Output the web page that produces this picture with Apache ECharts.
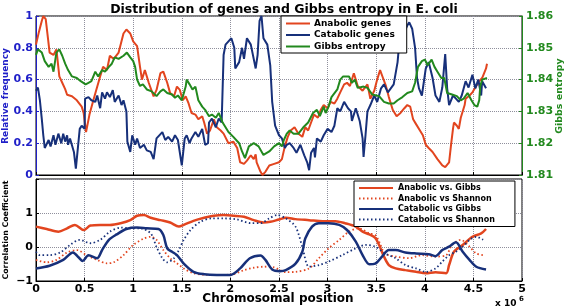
<!DOCTYPE html>
<html><head><meta charset="utf-8">
<script src="https://cdn.jsdelivr.net/npm/echarts@6/dist/echarts.min.js"></script>
<style>html,body{margin:0;padding:0;background:#fff}#c{width:566px;height:308px}</style>
</head><body><div id="c"></div>
<script>
// ---- Top panel data (x in units of 10^6) ----
const anaX=[0,0.03,0.06,0.075,0.10,0.125,0.14,0.18,0.21,0.23,0.24,0.27,0.30,0.32,0.37,0.42,0.47,0.49,0.515,0.53,0.55,0.59,0.62,0.66,0.69,0.73,0.76,0.80,0.85,0.90,0.93,0.97,1.00,1.04,1.07,1.09,1.12,1.16,1.21,1.24,1.28,1.31,1.35,1.38,1.42,1.45,1.48,1.51,1.54,1.57,1.60,1.64,1.67,1.71,1.73,1.76,1.79,1.83,1.86,1.90,1.93,1.98,2.03,2.07,2.10,2.14,2.17,2.21,2.24,2.26,2.27,2.31,2.33,2.36,2.40,2.45,2.50,2.53,2.56,2.59,2.62,2.66,2.70,2.74,2.77,2.80,2.83,2.86,2.90,2.93,2.96,3.00,3.03,3.07,3.10,3.13,3.17,3.20,3.23,3.27,3.31,3.36,3.41,3.44,3.48,3.51,3.54,3.57,3.60,3.63,3.67,3.71,3.75,3.79,3.82,3.85,3.88,3.91,3.95,3.98,4.01,4.04,4.08,4.13,4.18,4.21,4.25,4.27,4.29,4.30,4.33,4.35,4.37,4.41,4.42,4.46,4.49,4.52,4.56,4.59,4.63,4.64];
const anaY=[0.82,0.90,0.97,1.00,0.98,0.85,0.77,0.755,0.79,0.78,0.62,0.58,0.54,0.505,0.495,0.47,0.43,0.39,0.27,0.26,0.38,0.47,0.535,0.62,0.68,0.66,0.75,0.73,0.77,0.89,0.915,0.89,0.84,0.81,0.68,0.60,0.66,0.58,0.495,0.535,0.64,0.65,0.58,0.515,0.495,0.556,0.535,0.47,0.495,0.45,0.39,0.38,0.35,0.37,0.33,0.26,0.28,0.35,0.30,0.28,0.26,0.20,0.21,0.17,0.08,0.07,0.09,0.124,0.10,0.13,0.08,0.02,0.00,0.02,0.06,0.07,0.08,0.10,0.18,0.24,0.28,0.30,0.26,0.24,0.30,0.28,0.33,0.38,0.36,0.41,0.44,0.42,0.46,0.45,0.48,0.52,0.57,0.58,0.56,0.64,0.56,0.53,0.57,0.48,0.53,0.60,0.66,0.61,0.56,0.49,0.41,0.37,0.39,0.42,0.44,0.43,0.35,0.32,0.28,0.25,0.19,0.17,0.145,0.10,0.06,0.05,0.08,0.19,0.29,0.33,0.31,0.29,0.36,0.44,0.48,0.50,0.52,0.55,0.59,0.61,0.67,0.70];

const catX=[0,0.02,0.04,0.06,0.075,0.09,0.13,0.15,0.18,0.20,0.23,0.26,0.28,0.30,0.32,0.33,0.35,0.37,0.39,0.41,0.43,0.45,0.47,0.50,0.505,0.54,0.57,0.61,0.63,0.66,0.68,0.71,0.73,0.76,0.79,0.81,0.85,0.88,0.90,0.93,0.94,0.97,0.99,1.02,1.04,1.07,1.11,1.14,1.18,1.21,1.24,1.26,1.30,1.33,1.36,1.40,1.43,1.46,1.50,1.51,1.53,1.55,1.58,1.60,1.64,1.67,1.71,1.74,1.77,1.78,1.81,1.85,1.88,1.91,1.93,1.95,1.98,2.01,2.04,2.05,2.09,2.12,2.14,2.17,2.21,2.26,2.28,2.30,2.32,2.34,2.38,2.41,2.43,2.46,2.50,2.53,2.56,2.58,2.61,2.65,2.68,2.72,2.76,2.79,2.81,2.83,2.86,2.87,2.89,2.93,2.96,3.00,3.04,3.07,3.10,3.13,3.17,3.21,3.24,3.25,3.29,3.33,3.36,3.37,3.39,3.41,3.44,3.48,3.51,3.55,3.58,3.62,3.65,3.68,3.72,3.73,3.75,3.79,3.82,3.84,3.87,3.90,3.92,3.94,3.97,3.99,4.01,4.04,4.08,4.11,4.15,4.18,4.21,4.23,4.25,4.29,4.32,4.35,4.38,4.42,4.45,4.49,4.52,4.55,4.58,4.59,4.63];
const catY=[0.53,0.55,0.47,0.35,0.25,0.17,0.22,0.18,0.25,0.19,0.26,0.20,0.26,0.21,0.25,0.19,0.23,0.22,0.145,0.04,0.03,0.29,0.31,0.29,0.48,0.49,0.47,0.46,0.50,0.42,0.52,0.48,0.52,0.49,0.534,0.46,0.50,0.44,0.47,0.40,0.21,0.145,0.25,0.19,0.23,0.17,0.19,0.155,0.145,0.10,0.23,0.23,0.27,0.22,0.24,0.21,0.25,0.22,0.06,0.05,0.23,0.25,0.20,0.23,0.27,0.24,0.29,0.19,0.20,0.33,0.355,0.30,0.355,0.33,0.755,0.82,0.84,0.86,0.80,0.67,0.71,0.80,0.73,0.86,0.82,0.67,0.755,0.97,1.00,0.86,0.82,0.69,0.46,0.31,0.25,0.23,0.17,0.19,0.20,0.17,0.14,0.19,0.124,0.08,0.03,0.14,0.17,0.11,0.23,0.21,0.25,0.29,0.27,0.31,0.42,0.40,0.46,0.42,0.40,0.34,0.42,0.34,0.23,0.114,0.25,0.40,0.44,0.50,0.46,0.545,0.57,0.52,0.545,0.57,0.71,0.78,0.80,0.90,0.94,0.96,0.92,0.80,0.61,0.545,0.50,0.50,0.67,0.71,0.61,0.50,0.46,0.55,0.76,0.545,0.44,0.50,0.48,0.46,0.50,0.59,0.55,0.63,0.545,0.60,0.50,0.59,0.545];

const gibX=[0,0.02,0.06,0.09,0.13,0.16,0.18,0.21,0.24,0.27,0.30,0.33,0.37,0.42,0.46,0.51,0.54,0.57,0.61,0.64,0.68,0.71,0.75,0.78,0.81,0.85,0.90,0.935,0.97,1.00,1.02,1.04,1.07,1.10,1.14,1.19,1.24,1.28,1.31,1.35,1.40,1.43,1.46,1.50,1.54,1.55,1.58,1.61,1.64,1.67,1.71,1.74,1.78,1.81,1.85,1.88,1.92,1.95,1.98,2.03,2.09,2.12,2.15,2.19,2.24,2.29,2.34,2.40,2.45,2.50,2.53,2.55,2.58,2.61,2.65,2.70,2.75,2.80,2.85,2.89,2.92,2.96,2.98,3.01,3.04,3.10,3.13,3.16,3.22,3.25,3.28,3.31,3.37,3.41,3.46,3.53,3.58,3.63,3.68,3.72,3.77,3.82,3.87,3.90,3.93,3.97,4.00,4.03,4.07,4.10,4.13,4.17,4.20,4.23,4.28,4.33,4.37,4.40,4.44,4.48,4.51,4.54,4.56,4.57,4.59,4.64];
const gibY=[1.8478,1.8495,1.8485,1.8458,1.844,1.845,1.8425,1.8485,1.8495,1.8475,1.845,1.843,1.841,1.8405,1.8395,1.8385,1.839,1.8395,1.8425,1.841,1.843,1.8425,1.844,1.845,1.847,1.8465,1.8475,1.8485,1.847,1.8458,1.844,1.840,1.838,1.8385,1.8369,1.8363,1.8348,1.8363,1.8369,1.8358,1.8353,1.8343,1.835,1.8335,1.8378,1.840,1.8385,1.8369,1.8378,1.8335,1.8315,1.8305,1.8285,1.829,1.828,1.8295,1.8265,1.825,1.8235,1.822,1.820,1.8174,1.8153,1.819,1.820,1.819,1.8163,1.8174,1.819,1.820,1.819,1.821,1.823,1.824,1.823,1.823,1.825,1.8265,1.8295,1.8305,1.8285,1.8315,1.8295,1.8315,1.8345,1.8369,1.840,1.841,1.841,1.839,1.840,1.8374,1.8378,1.8374,1.8353,1.8348,1.833,1.8325,1.8325,1.8335,1.8345,1.8358,1.8363,1.839,1.844,1.8458,1.8463,1.8445,1.8463,1.844,1.8425,1.8405,1.8405,1.8358,1.8353,1.8348,1.8335,1.834,1.8358,1.8335,1.832,1.8315,1.8335,1.8378,1.840,1.8405];

// ---- Bottom panel data: correlation coefficients ----
const agX=[0,0.11,0.23,0.32,0.40,0.49,0.56,0.66,0.76,0.87,0.97,1.04,1.11,1.18,1.28,1.38,1.47,1.52,1.62,1.73,1.83,1.93,2.03,2.14,2.24,2.34,2.41,2.50,2.57,2.67,2.81,2.95,3.08,3.18,3.29,3.36,3.43,3.49,3.53,3.58,3.63,3.70,3.80,3.91,4.01,4.11,4.22,4.25,4.30,4.39,4.49,4.58,4.63];
const agY=[0.60,0.53,0.45,0.55,0.65,0.50,0.63,0.65,0.65,0.70,0.79,0.92,0.94,0.86,0.79,0.72,0.60,0.65,0.77,0.86,0.92,0.94,0.92,0.89,0.79,0.72,0.74,0.81,0.86,0.82,0.79,0.76,0.76,0.70,0.60,0.45,0.37,0.27,0.06,-0.28,-0.53,-0.63,-0.68,-0.73,-0.77,-0.74,-0.77,-0.53,-0.14,0.06,0.30,0.40,0.53];

const asX=[0,0.11,0.21,0.32,0.42,0.52,0.63,0.73,0.80,0.90,1.00,1.11,1.18,1.24,1.31,1.38,1.45,1.52,1.62,1.76,1.90,2.03,2.14,2.24,2.34,2.45,2.51,2.57,2.67,2.81,2.91,3.01,3.12,3.22,3.32,3.43,3.49,3.53,3.59,3.70,3.84,3.97,4.11,4.22,4.28,4.37,4.46,4.53,4.61];
const asY=[-0.38,-0.45,-0.38,-0.16,-0.09,-0.24,-0.38,-0.48,-0.45,-0.24,0.06,0.25,0.30,0.21,-0.09,-0.33,-0.48,-0.63,-0.77,-0.82,-0.82,-0.80,-0.68,-0.61,-0.58,-0.60,-0.68,-0.74,-0.73,-0.63,-0.33,-0.04,0.21,0.45,0.55,0.40,0.35,0.16,-0.19,-0.28,-0.33,-0.24,-0.28,-0.24,0.06,0.21,0.01,-0.19,-0.24];

const cgX=[0,0.14,0.28,0.38,0.44,0.48,0.54,0.63,0.68,0.75,0.83,0.93,1.04,1.14,1.26,1.31,1.35,1.40,1.45,1.52,1.62,1.73,1.86,2.00,2.10,2.20,2.31,2.36,2.43,2.51,2.57,2.67,2.74,2.77,2.84,2.91,3.01,3.12,3.20,3.29,3.36,3.43,3.49,3.56,3.63,3.70,3.80,3.91,4.04,4.11,4.18,4.25,4.32,4.39,4.46,4.53,4.63];
const cgY=[-0.63,-0.55,-0.38,-0.16,-0.31,-0.41,-0.24,-0.33,-0.09,0.21,0.37,0.53,0.57,0.55,0.53,0.35,-0.04,-0.14,-0.24,-0.49,-0.73,-0.80,-0.82,-0.82,-0.63,-0.33,-0.25,-0.38,-0.66,-0.71,-0.68,-0.49,-0.14,0.25,0.60,0.70,0.70,0.65,0.50,0.16,-0.24,-0.51,-0.49,-0.28,-0.09,-0.09,-0.16,-0.19,-0.21,-0.27,-0.09,0.01,0.14,-0.14,-0.38,-0.58,-0.66];

const csX=[0,0.04,0.14,0.25,0.35,0.45,0.56,0.66,0.76,0.87,0.97,1.07,1.18,1.24,1.30,1.35,1.42,1.47,1.52,1.59,1.69,1.81,1.93,2.07,2.21,2.31,2.40,2.48,2.57,2.67,2.74,2.81,2.91,3.01,3.15,3.29,3.39,3.49,3.59,3.70,3.80,3.91,4.01,4.11,4.18,4.25,4.32,4.39,4.46,4.53,4.60];
const csY=[-0.14,-0.24,-0.24,-0.16,0.06,0.21,0.11,0.21,0.45,0.57,0.55,0.55,0.40,0.00,-0.33,-0.45,-0.33,-0.09,0.21,0.50,0.74,0.84,0.84,0.81,0.70,0.70,0.84,0.94,0.84,0.60,0.00,-0.58,-0.53,-0.43,-0.24,-0.04,0.06,0.01,-0.19,-0.33,-0.53,-0.63,-0.73,-0.63,-0.43,-0.24,-0.14,0.01,0.21,0.30,0.21];

const RED='#E2451F', BLUE='#17307A', GREEN='#22891E';
const LBLUE='#1F1FC8';
const FONT='DejaVu Sans';
const zip=(a,b)=>a.map((v,i)=>[v,b[i]]);

const chart=echarts.init(document.getElementById('c'),null,{renderer:'canvas'});
const dotted={type:'dotted',color:'#8f8f9c',width:1};
const xBase=(gi,showLabel)=>({
  type:'value',gridIndex:gi,min:0,max:5,interval:0.5,
  axisLine:{show:true,onZero:false,lineStyle:{color:'#000'}},
  axisTick:{show:true,inside:true,length:3,lineStyle:{color:'#000'}},
  axisLabel:{show:showLabel,color:'#000',fontFamily:FONT,fontWeight:'bold',fontSize:11,margin:3},
  splitLine:{show:true,lineStyle:dotted}
});
const legendSymbolHidden={opacity:0,borderWidth:0};
const opt={
  animation:false,
  backgroundColor:'#fff',
  title:{text:'Distribution of genes and Gibbs entropy in E. coli',left:279,top:-2,textAlign:'center',
    textStyle:{fontFamily:FONT,fontWeight:'bold',fontSize:12.5,color:'#000'}},
  grid:[
    {left:36,right:44,top:16,height:159,show:true,borderColor:'#000',borderWidth:1},
    {left:36,right:44,top:179,height:102,show:true,borderColor:'#000',borderWidth:1}
  ],
  xAxis:[xBase(0,false),xBase(1,true)],
  yAxis:[
    {type:'value',gridIndex:0,min:0,max:1,interval:0.2,
     axisLine:{show:true,lineStyle:{color:LBLUE}},
     axisTick:{show:true,inside:true,length:3},
     axisLabel:{color:LBLUE,fontFamily:FONT,fontWeight:'bold',fontSize:11,margin:3,formatter:v=>String(+v.toFixed(1))},
     splitLine:{show:true,lineStyle:dotted}},
    {type:'value',gridIndex:0,position:'right',min:1.81,max:1.86,interval:0.01,
     axisLine:{show:true,lineStyle:{color:GREEN}},
     axisTick:{show:true,inside:true,length:3},
     axisLabel:{color:GREEN,fontFamily:FONT,fontWeight:'bold',fontSize:11,margin:4,formatter:v=>v.toFixed(2)},
     splitLine:{show:false}},
    {type:'value',gridIndex:1,min:-1,max:2,interval:1,
     axisLine:{show:true,lineStyle:{color:'#000'}},
     axisTick:{show:true,inside:true,length:3},
     axisLabel:{color:'#000',fontFamily:FONT,fontWeight:'bold',fontSize:11,margin:3,
       formatter:v=>v===2?'':(v<0?'\u2212'+Math.abs(v):String(v))},
     splitLine:{show:true,lineStyle:dotted}}
  ],
  legend:[
    {data:['Anabolic genes','Catabolic genes','Gibbs entropy'],orient:'vertical',left:281,top:16,
     padding:[3,12,2,4],itemGap:2.5,itemWidth:24,itemHeight:9,itemStyle:legendSymbolHidden,
     borderColor:'#000',borderWidth:1,borderRadius:0,backgroundColor:'#fff',
     textStyle:{fontFamily:FONT,fontWeight:'bold',fontSize:9,color:'#000',padding:[0,0,0,-1]}},
    {data:['Anabolic vs. Gibbs','Anabolic vs Shannon','Catabolic vs Gibbs','Catabolic vs Shannon'],orient:'vertical',left:354,top:181,
     padding:[3,20,3,4],itemGap:2.5,itemWidth:34,itemHeight:9,itemStyle:legendSymbolHidden,
     borderColor:'#000',borderWidth:1,borderRadius:0,backgroundColor:'#fff',
     textStyle:{fontFamily:FONT,fontWeight:'bold',fontSize:8,color:'#000'}}
  ],
  series:[
    {name:'Anabolic genes',type:'line',xAxisIndex:0,yAxisIndex:0,data:zip(anaX,anaY),symbol:'none',
     lineStyle:{color:RED,width:2},itemStyle:{color:RED}},
    {name:'Catabolic genes',type:'line',xAxisIndex:0,yAxisIndex:0,data:zip(catX,catY),symbol:'none',
     lineStyle:{color:BLUE,width:2},itemStyle:{color:BLUE}},
    {name:'Gibbs entropy',type:'line',xAxisIndex:0,yAxisIndex:1,data:zip(gibX,gibY),symbol:'none',
     lineStyle:{color:GREEN,width:2},itemStyle:{color:GREEN}},
    {name:'Anabolic vs. Gibbs',type:'line',xAxisIndex:1,yAxisIndex:2,data:zip(agX,agY),symbol:'none',smooth:0.3,
     lineStyle:{color:RED,width:2.5},itemStyle:{color:RED}},
    {name:'Anabolic vs Shannon',type:'line',xAxisIndex:1,yAxisIndex:2,data:zip(asX,asY),symbol:'none',smooth:0.3,
     lineStyle:{color:RED,width:1.8,type:[1.5,2.5]},itemStyle:{color:RED}},
    {name:'Catabolic vs Gibbs',type:'line',xAxisIndex:1,yAxisIndex:2,data:zip(cgX,cgY),symbol:'none',smooth:0.3,
     lineStyle:{color:BLUE,width:2.5},itemStyle:{color:BLUE}},
    {name:'Catabolic vs Shannon',type:'line',xAxisIndex:1,yAxisIndex:2,data:zip(csX,csY),symbol:'none',smooth:0.3,
     lineStyle:{color:BLUE,width:1.8,type:[1.5,2.5]},itemStyle:{color:BLUE}}
  ],
  graphic:[
    {type:'text',x:6,y:96,rotation:Math.PI/2,style:{text:'Relative frequency',fill:LBLUE,font:'bold 9px "DejaVu Sans"',align:'center',verticalAlign:'middle'}},
    {type:'text',x:560,y:96,rotation:Math.PI/2,style:{text:'Gibbs entropy',fill:GREEN,font:'bold 9.5px "DejaVu Sans"',align:'center',verticalAlign:'middle'}},
    {type:'text',x:6,y:230,rotation:Math.PI/2,style:{text:'Correlation Coefficient',fill:'#000',font:'bold 7.8px "DejaVu Sans"',align:'center',verticalAlign:'middle'}},
    {type:'text',x:278,y:299,style:{text:'Chromosomal position',fill:'#000',font:'bold 12px "DejaVu Sans"',align:'center',verticalAlign:'middle'}},
    {type:'text',x:495,y:304,style:{text:'x 10',fill:'#000',font:'bold 9px "DejaVu Sans"',align:'left',verticalAlign:'middle'}},
    {type:'text',x:519,y:299,style:{text:'6',fill:'#000',font:'bold 7px "DejaVu Sans"',align:'left',verticalAlign:'middle'}}
  ]
};
chart.setOption(opt);
</script></body></html>
